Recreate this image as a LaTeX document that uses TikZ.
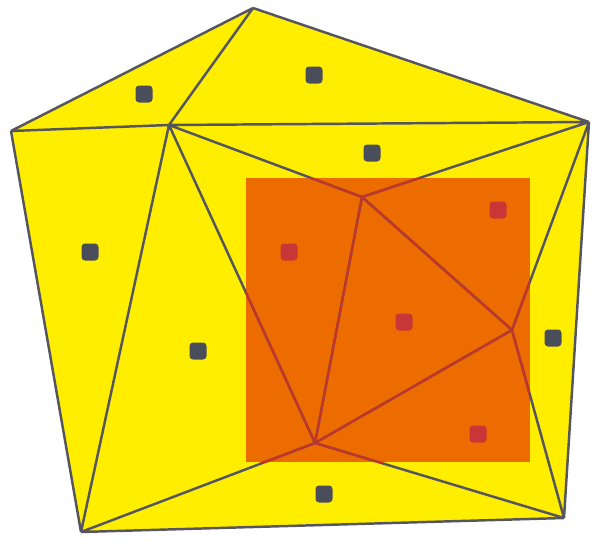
\documentclass[tikz,border=0pt]{standalone}
\usepackage{tikz}
\usetikzlibrary{positioning,calc}
\definecolor{mesh}{RGB}{255,238,0}
\definecolor{roi}{RGB}{236,108,0}
\definecolor{edgeG}{RGB}{85,85,95}
\definecolor{edgeR}{RGB}{196,52,40}
\definecolor{dotG}{RGB}{74,78,90}
\definecolor{dotR}{RGB}{200,55,55}
\tikzset{
  tri/.style={draw=edgeG,line width=1.4pt,line join=round},
  tin/.style={draw=edgeR,line width=1.3pt,line join=round},
  cell/.style={rectangle,rounded corners=2pt,minimum size=3.4mm,inner sep=0pt,fill=dotG},
  rcell/.style={cell,fill=dotR},
}

\begin{document}
\begin{tikzpicture}[x=0.2mm,y=-0.2mm]
  \useasboundingbox (0,0) rectangle (595,543);
  % vertices of the mesh
  \coordinate (A) at (253,8);
  \coordinate (B) at (11,131);
  \coordinate (C) at (169,125);
  \coordinate (D) at (589,122);
  \coordinate (E) at (81,532);
  \coordinate (F) at (564,518);
  \coordinate (G) at (362,197);
  \coordinate (H) at (512,330);
  \coordinate (I) at (315,443);
  % region
  \fill[mesh] (A) -- (D) -- (F) -- (E) -- (B) -- cycle;
  \fill[roi] (246,178) rectangle (530,462);
  % edges
  \draw[tri] (A) -- (B) (A) -- (C) (A) -- (D) (B) -- (C) (C) -- (D)
    (B) -- (E) (C) -- (E) (C) -- (G) (C) -- (I) (G) -- (D)
    (G) -- (H) (G) -- (I) (D) -- (H) (D) -- (F) (H) -- (F)
    (H) -- (I) (I) -- (E) (I) -- (F) (E) -- (F);
  \begin{scope}
    \clip (246,178) rectangle (530,462);
    \draw[tin] (C) -- (G) (C) -- (I) (G) -- (D) (G) -- (H) (G) -- (I)
      (D) -- (H) (H) -- (I) (H) -- (F) (I) -- (E) (I) -- (F);
  \end{scope}
  % cell markers
  \node[cell] (c1) at (144,94) {};
  \node[cell] (c2) at (314,75) {};
  \node[cell] (c3) at (372,153) {};
  \node[cell] (c4) at (90,252) {};
  \node[cell] (c5) at (198,351) {};
  \node[cell] (c6) at (553,338) {};
  \node[cell] (c7) at (324,494) {};
  \node[rcell] (r1) at (289,252) {};
  \node[rcell] (r2) at (498,210) {};
  \node[rcell] (r3) at (404,322) {};
  \node[rcell] (r4) at (478,434) {};
\end{tikzpicture}
\end{document}
